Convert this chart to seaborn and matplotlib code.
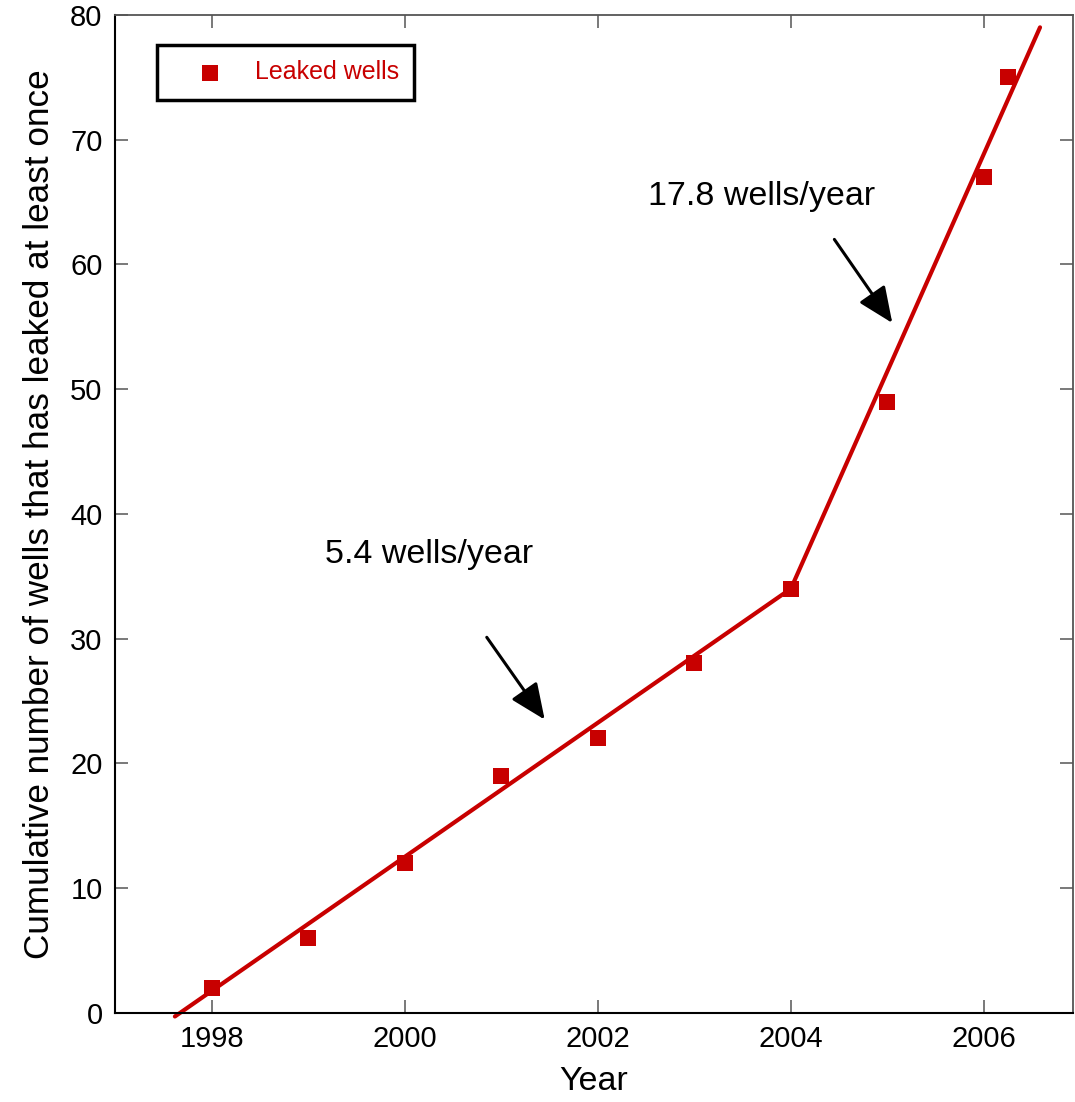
import matplotlib
matplotlib.use("Agg")
import matplotlib.pyplot as plt
from matplotlib import font_manager
import seaborn as sns
import pandas as pd

# Observed cumulative count of wells that leaked at least once
years = [1998, 1999, 2000, 2001, 2002, 2003, 2004, 2005, 2006, 2006.25]
leaked = [2, 6, 12, 19, 22, 28, 34, 49, 67, 75]

# Piecewise linear trend (two regimes, break at 2004)
fit_years = [1997.62, 2004.0, 2006.58]
fit_counts = [-0.3, 34.0, 79.0]

rate_labels = ["5.4 wells/year", "17.8 wells/year"]
x_ticks = [1998, 2000, 2002, 2004, 2006]
y_ticks = [0, 10, 20, 30, 40, 50, 60, 70, 80]

RED = "#c80000"

sns.set_style("ticks")
plt.rcParams["font.family"] = ["Liberation Sans", "DejaVu Sans"]
plt.rcParams["text.color"] = "black"
plt.rcParams["axes.labelcolor"] = "black"

# Prefer a narrow face for the large labels when one is installed
names = {f.name for f in font_manager.fontManager.ttflist}
if "Liberation Sans Narrow" in names:
    narrow, big, ylab = "Liberation Sans Narrow", 30, 31
elif "DejaVu Sans Condensed" in names:
    narrow, big, ylab = "DejaVu Sans Condensed", 26, 27
else:
    narrow, big, ylab = "Liberation Sans", 24.5, 25.3

fig = plt.figure(figsize=(10.75, 11.02), dpi=100)
ax = fig.add_axes([0.107, 0.081, 0.891, 0.9055])

pts = pd.DataFrame({"year": years, "wells": leaked})
fit = pd.DataFrame({"year": fit_years, "wells": fit_counts})

sns.lineplot(data=fit, x="year", y="wells", ax=ax, color=RED, lw=3.0,
             sort=False, estimator=None, zorder=2)
for ln in ax.get_lines():
    ln.set_clip_on(False)
sns.scatterplot(data=pts, x="year", y="wells", ax=ax, marker="s", s=125,
                color=RED, edgecolor=RED, linewidth=0, zorder=3,
                label="Leaked wells")

ax.set_xlim(1997.0, 2006.92)
ax.set_ylim(0, 80)
ax.set_xticks(x_ticks)
ax.set_yticks(y_ticks)
ax.tick_params(axis="both", which="both", direction="in", length=9.5, width=1.1,
               color="#555555", labelsize=21, labelcolor="black",
               top=True, right=True, pad=9)

for side in ["left", "bottom"]:
    ax.spines[side].set_color("black")
    ax.spines[side].set_linewidth(1.5)
for side in ["top", "right"]:
    ax.spines[side].set_color("#555555")
    ax.spines[side].set_linewidth(1.3)

ax.set_xlabel("Year", fontsize=big, family=narrow, labelpad=9)
ax.set_ylabel("Cumulative number of wells that has leaked at least once",
              fontsize=ylab, family=narrow, labelpad=10)

# Rate annotations with arrows pointing at each regime
arrow_kw = dict(arrowstyle="-|>,head_length=0.55,head_width=0.24", color="black",
                lw=2.2, mutation_scale=40, shrinkA=0, shrinkB=0)
ax.annotate("", xy=(2001.45, 23.5), xytext=(2000.85, 30.1), arrowprops=arrow_kw)
ax.annotate("", xy=(2005.05, 55.3), xytext=(2004.45, 62.0), arrowprops=arrow_kw)
ax.text(2000.25, 36.7, rate_labels[0], fontsize=big, family=narrow,
        ha="center", va="center")
ax.text(2003.70, 65.4, rate_labels[1], fontsize=big, family=narrow,
        ha="center", va="center")

leg = ax.legend(loc="upper left", bbox_to_anchor=(0.044, 0.970), fontsize=18,
                frameon=True, fancybox=False, framealpha=1, borderpad=0.62,
                handlelength=3.0, handletextpad=0.28, markerscale=1.0,
                borderaxespad=0)
leg.get_frame().set_edgecolor("black")
leg.get_frame().set_linewidth(2.5)
for t in leg.get_texts():
    t.set_color(RED)

fig.savefig("out.png", dpi=100)
